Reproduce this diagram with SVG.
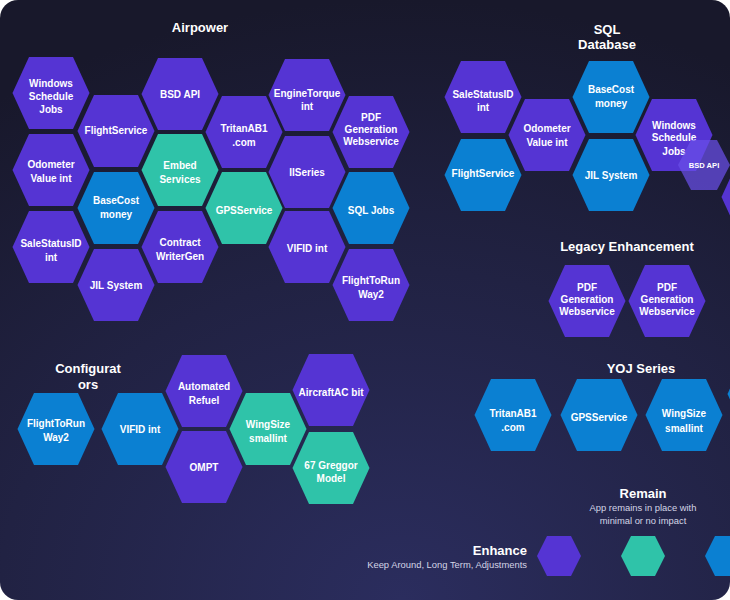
<svg xmlns="http://www.w3.org/2000/svg" xmlns:xlink="http://www.w3.org/1999/xlink" width="730" height="600" viewBox="0 0 730 600">
<defs>
<radialGradient id="bg" cx="0.55" cy="1.0" r="1.0" gradientUnits="objectBoundingBox">
<stop offset="0" stop-color="#2b2d5e"/>
<stop offset="0.55" stop-color="#212243"/>
<stop offset="1" stop-color="#18182b"/>
</radialGradient>
<clipPath id="card"><rect x="0" y="0" width="730" height="600" rx="18" ry="18"/></clipPath>
<path id="hx" d="M-38.5,0 L-22,-36 L22,-36 L38.5,0 L22,36 L-22,36 Z"/>
<path id="hs" d="M-22,0 L-12,-20 L12,-20 L22,0 L12,20 L-12,20 Z"/>
<style>
.p{fill:#5534d3}
.t{fill:#2fc3a9}
.b{fill:#0b80d2}
.l{font-family:"Liberation Sans",Arial,sans-serif;font-weight:bold;font-size:10px;fill:#ffffff;text-anchor:middle}
.h{font-family:"Liberation Sans",Arial,sans-serif;font-weight:bold;font-size:13px;fill:#ffffff;text-anchor:middle}
.s{font-family:"Liberation Sans",Arial,sans-serif;font-size:9.4px;fill:#d4d5e6;text-anchor:middle}
</style>
</defs>
<rect x="0" y="0" width="730" height="600" fill="#ffffff"/>
<g clip-path="url(#card)">
<rect x="0" y="0" width="730" height="600" fill="url(#bg)"/>

<g id="titles">
<text class="h" x="200" y="32">Airpower</text>
<text class="h" x="607" y="34">SQL</text>
<text class="h" x="607" y="49">Database</text>
<text class="h" x="627" y="251">Legacy Enhancement</text>
<text class="h" x="88" y="373">Configurat</text>
<text class="h" x="88" y="389">ors</text>
<text class="h" x="641" y="373">YOJ Series</text>
</g>

<g id="connectors"/>

<!-- Airpower -->
<g id="a-windows" transform="translate(51,93)"><use xlink:href="#hx" class="p"/><text class="l" y="-6.5">Windows</text><text class="l" y="6.5">Schedule</text><text class="l" y="19.5">Jobs</text></g>
<g id="a-odometer" transform="translate(51,170)"><use xlink:href="#hx" class="p"/><text class="l" y="-2.5">Odometer</text><text class="l" y="11.5">Value int</text></g>
<g id="a-salestatus" transform="translate(51,247)"><use xlink:href="#hx" class="p"/><text class="l" y="-0.5">SaleStatusID</text><text class="l" y="13.5">int</text></g>
<g id="a-flightservice" transform="translate(116,131)"><use xlink:href="#hx" class="p"/><text class="l" y="2.5">FlightService</text></g>
<g id="a-basecost" transform="translate(116,208)"><use xlink:href="#hx" class="b"/><text class="l" y="-4.5">BaseCost</text><text class="l" y="9.5">money</text></g>
<g id="a-jil" transform="translate(116,285)"><use xlink:href="#hx" class="p"/><text class="l" y="3.5">JIL System</text></g>
<g id="a-bsd" transform="translate(180,94)"><use xlink:href="#hx" class="p"/><text class="l" y="3.5">BSD API</text></g>
<g id="a-embed" transform="translate(180,170)"><use xlink:href="#hx" class="t"/><text class="l" y="-1.5">Embed</text><text class="l" y="12.5">Services</text></g>
<g id="a-contract" transform="translate(180,247)"><use xlink:href="#hx" class="p"/><text class="l" y="-1.5">Contract</text><text class="l" y="12.5">WriterGen</text></g>
<g id="a-tritan" transform="translate(244,132)"><use xlink:href="#hx" class="p"/><text class="l" y="-0.5">TritanAB1</text><text class="l" y="13.5">.com</text></g>
<g id="a-gps" transform="translate(244,208)"><use xlink:href="#hx" class="t"/><text class="l" y="5.5">GPSService</text></g>
<g id="a-engine" transform="translate(307,95)"><use xlink:href="#hx" class="p"/><text class="l" y="1.5">EngineTorque</text><text class="l" y="14.5">int</text></g>
<g id="a-iiseries" transform="translate(307,172)"><use xlink:href="#hx" class="p"/><text class="l" y="3.5">IISeries</text></g>
<g id="a-vifid" transform="translate(307,247)"><use xlink:href="#hx" class="p"/><text class="l" y="4.5">VIFID int</text></g>
<g id="a-pdf" transform="translate(371,132)"><use xlink:href="#hx" class="p"/><text class="l" y="-11.5">PDF</text><text class="l" y="0.5">Generation</text><text class="l" y="12.5">Webservice</text></g>
<g id="a-sqljobs" transform="translate(371,208)"><use xlink:href="#hx" class="b"/><text class="l" y="5.5">SQL Jobs</text></g>
<g id="a-flighttorun" transform="translate(371,285)"><use xlink:href="#hx" class="p"/><text class="l" y="-1.5">FlightToRun</text><text class="l" y="12.5">Way2</text></g>

<!-- SQL Database -->
<g id="s-salestatus" transform="translate(483,97)"><use xlink:href="#hx" class="p"/><text class="l" y="0.5">SaleStatusID</text><text class="l" y="13.5">int</text></g>
<g id="s-odometer" transform="translate(547,135)"><use xlink:href="#hx" class="p"/><text class="l" y="-3.5">Odometer</text><text class="l" y="10.5">Value int</text></g>
<g id="s-basecost" transform="translate(611,97)"><use xlink:href="#hx" class="b"/><text class="l" y="-4.5">BaseCost</text><text class="l" y="9.5">money</text></g>
<g id="s-flightservice" transform="translate(483,175)"><use xlink:href="#hx" class="b"/><text class="l" y="1.5">FlightService</text></g>
<g id="s-jil" transform="translate(611,175)"><use xlink:href="#hx" class="b"/><text class="l" y="3.5">JIL System</text></g>
<g id="s-windows" transform="translate(674,135)"><use xlink:href="#hx" class="p"/><text class="l" y="-6.5">Windows</text><text class="l" y="5.5">Schedule</text><text class="l" y="19.5">Jobs</text></g>
<g id="s-partial" transform="translate(760,197)"><use xlink:href="#hx" class="p"/></g>
<g id="s-bsd" transform="translate(704,165)"><path d="M-26,0 L-13,-25 L13,-25 L26,0 L13,25 L-13,25 Z" fill="#6a4fe8" fill-opacity="0.72"/><text class="l" y="3" style="font-size:7.6px">BSD API</text></g>

<!-- Legacy Enhancement -->
<g id="l-pdf1" transform="translate(587,301)"><use xlink:href="#hx" class="p"/><text class="l" y="-10.5">PDF</text><text class="l" y="1.5">Generation</text><text class="l" y="13.5">Webservice</text></g>
<g id="l-pdf2" transform="translate(667,301)"><use xlink:href="#hx" class="p"/><text class="l" y="-10.5">PDF</text><text class="l" y="1.5">Generation</text><text class="l" y="13.5">Webservice</text></g>

<!-- Configurators -->
<g id="c-flighttorun" transform="translate(56,429)"><use xlink:href="#hx" class="b"/><text class="l" y="-2.5">FlightToRun</text><text class="l" y="11.5">Way2</text></g>
<g id="c-vifid" transform="translate(140,429)"><use xlink:href="#hx" class="b"/><text class="l" y="3.5">VIFID int</text></g>
<g id="c-automated" transform="translate(204,391)"><use xlink:href="#hx" class="p"/><text class="l" y="-1.5">Automated</text><text class="l" y="12.5">Refuel</text></g>
<g id="c-ompt" transform="translate(204,467)"><use xlink:href="#hx" class="p"/><text class="l" y="3.5">OMPT</text></g>
<g id="c-wingsize" transform="translate(268,429)"><use xlink:href="#hx" class="t"/><text class="l" y="-1.5">WingSize</text><text class="l" y="12.5">smallint</text></g>
<g id="c-aircraft" transform="translate(331,390)"><use xlink:href="#hx" class="p"/><text class="l" y="5.5">AircraftAC bit</text></g>
<g id="c-greggor" transform="translate(331,468)"><use xlink:href="#hx" class="t"/><text class="l" y="0.5">67 Greggor</text><text class="l" y="13.5">Model</text></g>

<!-- YOJ Series -->
<g id="y-tritan" transform="translate(513,415)"><use xlink:href="#hx" class="b"/><text class="l" y="2">TritanAB1</text><text class="l" y="16">.com</text></g>
<g id="y-gps" transform="translate(599,415)"><use xlink:href="#hx" class="b"/><text class="l" y="6">GPSService</text></g>
<g id="y-wingsize" transform="translate(684,415)"><use xlink:href="#hx" class="b"/><text class="l" y="1.5">WingSize</text><text class="l" y="16.5">smallint</text></g>
<g id="y-partial" transform="translate(766,394)"><use xlink:href="#hx" class="b"/></g>

<!-- Legend -->
<g id="legend">
<text class="h" x="643" y="498">Remain</text>
<text class="s" x="643" y="511">App remains in place with</text>
<text class="s" x="643" y="524">minimal or no impact</text>
<text class="h" x="527" y="555" style="text-anchor:end">Enhance</text>
<text class="s" x="527" y="568" style="text-anchor:end">Keep Around, Long Term, Adjustments</text>
<g id="legend-enhance" transform="translate(559,556)"><use xlink:href="#hs" class="p"/></g>
<g id="legend-remain" transform="translate(643,556)"><use xlink:href="#hs" class="t"/></g>
<g id="legend-blue" transform="translate(727,556)"><use xlink:href="#hs" class="b"/></g>
</g>
</g>
</svg>
